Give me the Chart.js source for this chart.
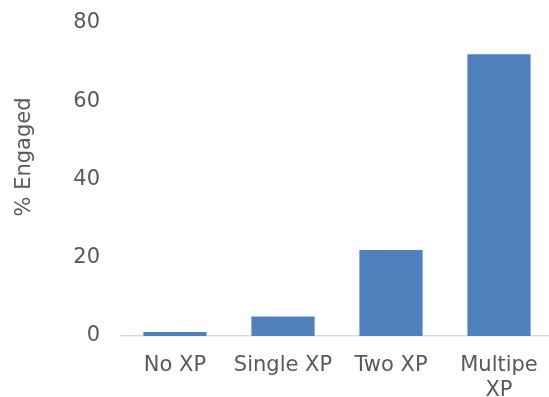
<!DOCTYPE html>
<html>
<head>
<meta charset="utf-8">
<script src="https://cdn.jsdelivr.net/npm/chart.js@4/dist/chart.umd.min.js"></script>
<style>
  html, body { margin: 0; padding: 0; background: #ffffff; overflow: hidden; }
  #wrap { width: 549px; height: 397px; overflow: hidden; }
  #c { display: block; }
</style>
</head>
<body>
<div id="wrap"><canvas id="c" width="553" height="397"></canvas></div>
<script>
// Engagement by experience group
const categories = ["No XP", "Single XP", "Two XP", ["Multipe", "XP"]];
const engaged = [1, 5, 22, 72];
const yTicks = [0, 20, 40, 60, 80];
const yTitle = "% Engaged";

const FONT = "'DejaVu Sans', Verdana, sans-serif";
const TEXT = "#595959";

// Axis title drawn beside the value axis
const sideTitle = {
  id: "sideTitle",
  afterDraw(chart) {
    const ctx = chart.ctx;
    ctx.save();
    ctx.translate(25, 157);
    ctx.rotate(-Math.PI / 2);
    ctx.font = "21px " + FONT;
    ctx.fillStyle = TEXT;
    ctx.textAlign = "center";
    ctx.textBaseline = "middle";
    ctx.fillText(yTitle, 0, 0);
    ctx.restore();
  }
};

new Chart(document.getElementById("c"), {
  type: "bar",
  data: {
    labels: categories,
    datasets: [{
      data: engaged,
      backgroundColor: "#4F81BD",
      borderWidth: 0,
      barPercentage: 0.585,
      categoryPercentage: 1.0
    }]
  },
  options: {
    responsive: false,
    animation: false,
    devicePixelRatio: 1,
    layout: { padding: { top: 23, right: 0, left: 0, bottom: 0 } },
    plugins: {
      legend: { display: false },
      tooltip: { enabled: false }
    },
    scales: {
      x: {
        grid: { display: false, drawTicks: false },
        border: { display: true, color: "#D9D9D9", width: 1.5 },
        ticks: {
          color: TEXT,
          font: { family: FONT, size: 21, lineHeight: 1.2 },
          padding: 17,
          maxRotation: 0,
          autoSkip: false
        },
        afterFit(scale) { scale.height = 61; scale.paddingLeft = 0; scale.paddingRight = 0; }
      },
      y: {
        min: 0,
        max: 80,
        afterBuildTicks(scale) { scale.ticks = yTicks.map(v => ({ value: v })); },
        grid: { display: false, drawTicks: false },
        border: { display: false },
        ticks: {
          color: TEXT,
          font: { family: FONT, size: 21 },
          padding: 21
        },
        afterFit(scale) { scale.width = 121; scale.paddingTop = 0; scale.paddingBottom = 0; }
      }
    }
  },
  plugins: [sideTitle]
});
</script>
</body>
</html>
